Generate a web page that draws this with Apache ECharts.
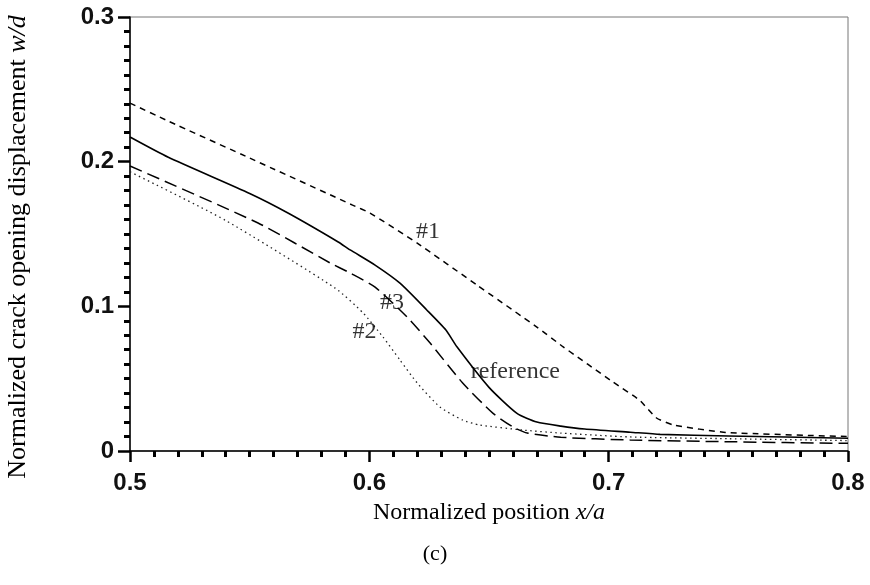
<!DOCTYPE html>
<html>
<head>
<meta charset="utf-8">
<script src="https://cdn.jsdelivr.net/npm/echarts@6/dist/echarts.min.js"></script>
<style>
html,body{margin:0;padding:0;background:#fff;}
#chart{width:870px;height:585px;}
</style>
</head>
<body>
<div id="chart"></div>
<script>
// Data
var xTicks = [0.5, 0.6, 0.7, 0.8];
var yTicks = [0, 0.1, 0.2, 0.3];

var refX = [0.50, 0.516, 0.55, 0.566, 0.587, 0.592, 0.6024, 0.6128, 0.624, 0.632, 0.6366, 0.650, 0.6617, 0.670, 0.680, 0.690, 0.709, 0.7215, 0.75, 0.80];
var refY = [0.217, 0.203, 0.178, 0.1645, 0.1445, 0.139, 0.1285, 0.116, 0.0975, 0.0836, 0.072, 0.044, 0.026, 0.020, 0.0172, 0.0152, 0.013, 0.0115, 0.0104, 0.0088];

var s1X = [0.50, 0.516, 0.55, 0.593, 0.6003, 0.620, 0.645, 0.670, 0.681, 0.7018, 0.713, 0.720, 0.727, 0.749, 0.80];
var s1Y = [0.2405, 0.228, 0.2025, 0.170, 0.1645, 0.1437, 0.1147, 0.0857, 0.072, 0.0477, 0.035, 0.0228, 0.018, 0.0128, 0.0100];

var s2X = [0.50, 0.5397, 0.5857, 0.5974, 0.6057, 0.6128, 0.620, 0.6295, 0.639, 0.646, 0.664, 0.680, 0.709, 0.75, 0.80];
var s2Y = [0.193, 0.1596, 0.1126, 0.0954, 0.0788, 0.0629, 0.047, 0.0304, 0.0214, 0.018, 0.0145, 0.0124, 0.0097, 0.0085, 0.0072];

var s3X = [0.50, 0.5535, 0.5836, 0.592, 0.6024, 0.6158, 0.6254, 0.639, 0.6517, 0.660, 0.666, 0.680, 0.709, 0.75, 0.80];
var s3Y = [0.197, 0.1576, 0.130, 0.123, 0.1133, 0.0926, 0.0746, 0.047, 0.026, 0.0166, 0.0124, 0.0095, 0.0076, 0.0064, 0.0053];

var labelText = ['#1', '#3', '#2', 'reference'];
var labelX = [0.6245, 0.6095, 0.598, 0.661];
var labelY = [0.1513, 0.1023, 0.0822, 0.0546];

function pairs(xs, ys) { return xs.map(function (x, i) { return [x, ys[i]]; }); }

var chart = echarts.init(document.getElementById('chart'), null, {renderer: 'canvas'});

var tickFont = 'Liberation Sans, Arial, sans-serif';
var serif = 'Liberation Serif, Times New Roman, serif';

var option = {
  animation: false,
  backgroundColor: '#fff',
  title: {
    text: '(c)',
    left: 'center',
    top: 538,
    textStyle: {fontFamily: serif, fontSize: 22, fontWeight: 'normal', color: '#000'}
  },
  graphic: [{
    type: 'text',
    x: 18, y: 247,
    rotation: Math.PI / 2,
    style: {
      text: 'Normalized crack opening displacement {i|w/d}',
      fontFamily: serif, fontSize: 26, fill: '#000',
      align: 'center', verticalAlign: 'middle',
      rich: {i: {fontFamily: serif, fontSize: 26, fontStyle: 'italic', fill: '#000'}}
    }
  }],
  grid: {
    left: 130, right: 22, top: 17, bottom: 134,
    show: true, borderColor: '#777', borderWidth: 1, backgroundColor: 'transparent'
  },
  xAxis: {
    type: 'value', min: xTicks[0], max: xTicks[xTicks.length - 1], interval: 0.1,
    name: 'Normalized position {i|x/a}',
    nameLocation: 'middle', nameGap: 50,
    nameTextStyle: {
      fontFamily: serif, fontSize: 24, color: '#000',
      rich: {i: {fontFamily: serif, fontSize: 24, fontStyle: 'italic', color: '#000'}}
    },
    axisLine: {show: true, onZero: false, lineStyle: {color: '#000', width: 1.5}},
    axisTick: {show: true, inside: false, length: 11, lineStyle: {color: '#000', width: 2.5}},
    minorTick: {show: true, splitNumber: 10, length: 6, lineStyle: {color: '#000', width: 3}},
    splitLine: {show: false},
    axisLabel: {
      margin: 20, fontFamily: tickFont, fontSize: 24, fontWeight: 'bold', color: '#111',
      formatter: function (v) { return v.toFixed(1); }
    }
  },
  yAxis: {
    type: 'value', min: yTicks[0], max: yTicks[yTicks.length - 1], interval: 0.1,
    axisLine: {show: true, onZero: false, lineStyle: {color: '#000', width: 1.5}},
    axisTick: {show: true, inside: false, length: 12, lineStyle: {color: '#000', width: 2.5}},
    minorTick: {show: true, splitNumber: 10, length: 6, lineStyle: {color: '#000', width: 3}},
    splitLine: {show: false},
    axisLabel: {
      margin: 16, fontFamily: tickFont, fontSize: 24, fontWeight: 'bold', color: '#111',
      formatter: function (v) { return v === 0 ? '0' : v.toFixed(1); }
    }
  },
  series: [
    {
      name: 'reference', type: 'line', data: pairs(refX, refY), showSymbol: false,
      smooth: 0.2,
      lineStyle: {color: '#000', width: 1.6, type: 'solid'}
    },
    {
      name: '#1', type: 'line', data: pairs(s1X, s1Y), showSymbol: false,
      smooth: 0.15,
      lineStyle: {color: '#000', width: 1.5, type: [6, 5]}
    },
    {
      name: '#2', type: 'line', data: pairs(s2X, s2Y), showSymbol: false,
      smooth: 0.2,
      lineStyle: {color: '#222', width: 1.3, type: [1.5, 3.5]}
    },
    {
      name: '#3', type: 'line', data: pairs(s3X, s3Y), showSymbol: false,
      smooth: 0.2,
      lineStyle: {color: '#000', width: 1.5, type: [13, 6]}
    },
    {
      name: 'labels', type: 'scatter', symbol: 'circle', symbolSize: 1,
      itemStyle: {color: 'transparent'},
      data: labelText.map(function (t, i) { return {name: t, value: [labelX[i], labelY[i]]}; }),
      label: {
        show: true, position: 'inside', formatter: function (p) { return p.name; },
        fontFamily: serif, fontSize: 24, color: '#000'
      },
      z: 5
    }
  ]
};
chart.setOption(option);
</script>
</body>
</html>
